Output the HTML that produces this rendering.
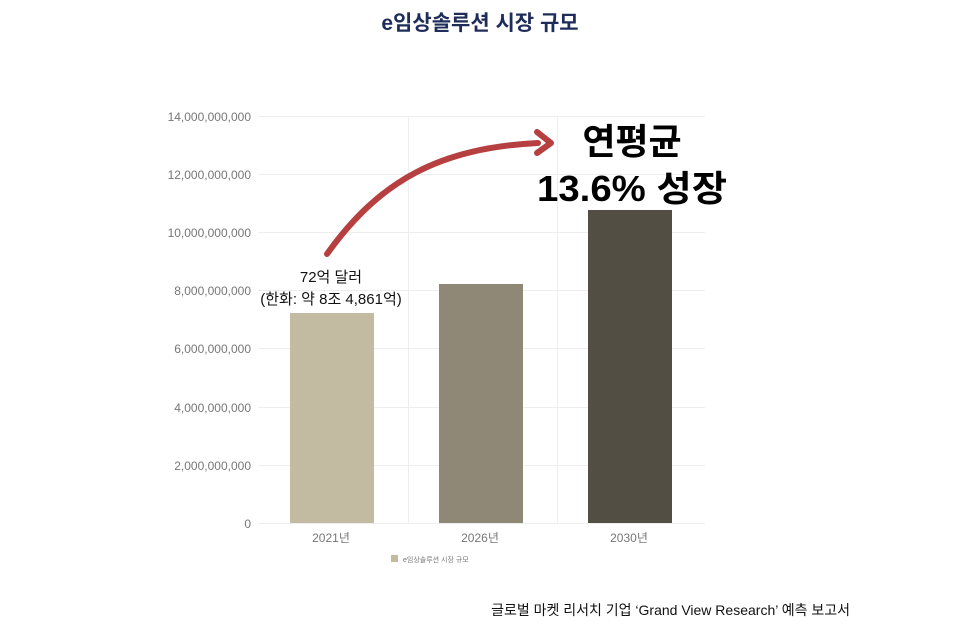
<!DOCTYPE html>
<html><head><meta charset="utf-8"><style>
body{margin:0;background:#fff;width:960px;height:631px;overflow:hidden;font-family:"Liberation Sans","Noto Sans CJK KR",sans-serif;}
</style></head><body>
<svg width="960" height="631" xmlns="http://www.w3.org/2000/svg" style="position:absolute;left:0;top:0">
<text x="480" y="30" text-anchor="middle" font-size="21" font-weight="bold" fill="#1f2d5a" font-family="Liberation Sans, Noto Sans CJK KR, sans-serif">e임상솔루션 시장 규모</text>
<g stroke="#eeeeee" stroke-width="1">
<line x1="258" y1="116.5" x2="705" y2="116.5"/>
<line x1="258" y1="174.5" x2="705" y2="174.5"/>
<line x1="258" y1="232.5" x2="705" y2="232.5"/>
<line x1="258" y1="290.5" x2="705" y2="290.5"/>
<line x1="258" y1="348.5" x2="705" y2="348.5"/>
<line x1="258" y1="407.5" x2="705" y2="407.5"/>
<line x1="258" y1="465.5" x2="705" y2="465.5"/>
<line x1="258" y1="523.5" x2="705" y2="523.5"/>
<line x1="408.5" y1="116" x2="408.5" y2="523"/>
<line x1="557.5" y1="116" x2="557.5" y2="523"/>
</g>
<g font-size="12" fill="#777" text-anchor="end" font-family="Liberation Sans, sans-serif">
<text x="251" y="121">14,000,000,000</text>
<text x="251" y="179">12,000,000,000</text>
<text x="251" y="237">10,000,000,000</text>
<text x="251" y="295">8,000,000,000</text>
<text x="251" y="353">6,000,000,000</text>
<text x="251" y="412">4,000,000,000</text>
<text x="251" y="470">2,000,000,000</text>
<text x="251" y="528">0</text>
</g>
<rect x="290" y="313" width="84" height="210" fill="#c2bba1"/>
<rect x="439" y="284" width="84" height="239" fill="#8f8876"/>
<rect x="588" y="210" width="84" height="313" fill="#524e44"/>
<g font-size="12" fill="#777" text-anchor="middle" font-family="Liberation Sans, Noto Sans CJK KR, sans-serif">
<text x="331" y="542">2021년</text>
<text x="480" y="542">2026년</text>
<text x="629" y="542">2030년</text>
</g>
<rect x="391" y="555" width="7" height="7" fill="#c2bba1"/>
<text x="403" y="562" font-size="7" fill="#777" font-family="Liberation Sans, Noto Sans CJK KR, sans-serif">e임상솔루션 시장 규모</text>
<g font-size="15" fill="#111" text-anchor="middle" font-family="Liberation Sans, Noto Sans CJK KR, sans-serif">
<text x="331" y="282">72억 달러</text>
<text x="331" y="304">(한화: 약 8조 4,861억)</text>
</g>
<path d="M327 254 C 380 180, 440 148, 538 143" fill="none" stroke="#b5403f" stroke-width="6" stroke-linecap="round"/>
<path d="M537 132 L551 143 L537 153" fill="none" stroke="#b5403f" stroke-width="6" stroke-linecap="round" stroke-linejoin="round"/>
<g font-size="36" font-weight="bold" fill="#000" text-anchor="middle" font-family="Liberation Sans, Noto Sans CJK KR, sans-serif">
<text x="632" y="154">연평균</text>
<text x="632" y="201" textLength="190" lengthAdjust="spacingAndGlyphs">13.6% 성장</text>
</g>
<text x="850" y="615" text-anchor="end" font-size="14" fill="#111" font-family="Liberation Sans, Noto Sans CJK KR, sans-serif">글로벌 마켓 리서치 기업 ‘Grand View Research’ 예측 보고서</text>
</svg>
</body></html>
